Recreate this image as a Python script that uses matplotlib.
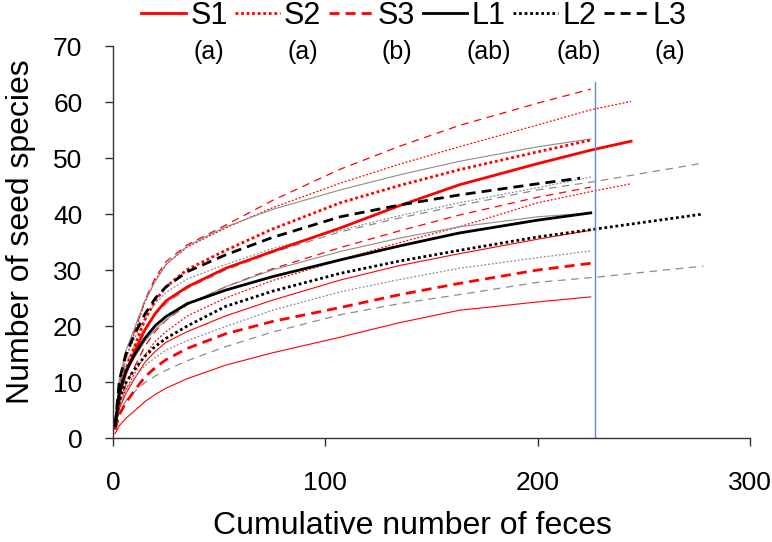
import matplotlib
matplotlib.use("Agg")
import matplotlib.pyplot as plt

plt.rcParams['font.family'] = ['Liberation Sans', 'DejaVu Sans']

# 读图得到的数据 (x: 累计粪便数, y: 种子物种数)
x_base = [1, 3, 6, 10, 15, 20, 25, 35, 53, 75, 107, 135, 163, 200]
x_225 = x_base + [225]
x_244 = x_base + [225, 244]
x_278 = x_base + [227, 278]
x_220 = x_base + [220]

s1_mean = [2.0, 7.7, 11.5, 15.3, 19.3, 22.3, 24.5, 27.0, 30.3, 33.3, 37.5, 41.5, 45.2, 49.0, 51.4, 53.0]
s1_up = [2.5, 9.3, 14.0, 18.6, 24.2, 28.3, 31.0, 34.1, 37.5, 41.1, 45.5, 48.9, 52.0, 55.9, 58.6, 60.1]
s1_low = [1.5, 5.7, 8.6, 11.4, 14.8, 17.3, 19.0, 21.8, 25.0, 28.1, 31.8, 34.9, 37.7, 42.0, 44.0, 45.4]

s2_mean = [2.0, 8.1, 12.2, 16.2, 21.1, 24.6, 27.0, 30.1, 33.5, 37.3, 42.0, 45.1, 47.9, 51.1, 53.2]
s2_up = [2.5, 9.5, 14.2, 18.9, 24.6, 28.7, 31.5, 34.5, 38.0, 42.4, 48.0, 52.1, 55.8, 59.8, 62.3]
s2_low = [1.5, 6.3, 9.5, 12.6, 16.4, 19.1, 21.0, 23.8, 27.0, 30.2, 34.0, 37.0, 39.8, 43.0, 44.8]

s3_mean = [1.5, 4.2, 6.3, 8.4, 10.9, 12.6, 14.0, 16.0, 18.6, 20.8, 23.3, 25.6, 27.6, 30.0, 31.2]
s3_up = [1.8, 5.3, 7.9, 10.5, 13.5, 15.5, 17.1, 19.0, 21.8, 24.6, 28.2, 30.8, 32.9, 35.5, 37.1]
s3_low = [0.8, 2.2, 3.5, 4.8, 6.5, 7.8, 8.9, 10.6, 13.0, 15.2, 18.0, 20.6, 22.8, 24.3, 25.2]

l1_mean = [2.2, 8.2, 11.9, 14.8, 17.8, 20.1, 21.7, 24.0, 26.4, 28.8, 31.8, 34.3, 36.6, 38.9, 40.2]
l1_up = [2.5, 9.9, 14.3, 17.7, 21.3, 24.1, 26.0, 28.4, 31.0, 33.8, 37.1, 39.7, 42.0, 44.7, 46.6]
l1_low = [1.8, 6.0, 8.6, 10.7, 12.9, 14.4, 15.7, 17.4, 19.9, 22.8, 26.1, 28.3, 30.3, 32.2, 33.4]

l2_mean = [2.0, 6.8, 9.8, 12.2, 14.6, 16.4, 17.8, 20.0, 23.5, 26.2, 29.4, 31.6, 33.5, 35.9, 37.3, 40.0]
l2_up = [2.3, 9.1, 13.2, 16.3, 19.7, 22.1, 24.0, 26.7, 30.0, 33.1, 36.8, 39.3, 41.5, 44.3, 45.8, 49.1]
l2_low = [1.5, 4.6, 6.6, 8.2, 9.9, 11.1, 12.1, 13.8, 16.3, 18.9, 22.0, 24.0, 25.6, 27.8, 28.7, 30.7]

l3_mean = [2.3, 10.3, 14.9, 18.4, 22.1, 25.0, 27.0, 29.7, 32.7, 35.8, 39.5, 41.6, 43.4, 45.4, 46.4]
l3_up = [2.6, 10.5, 15.5, 19.5, 24.5, 28.0, 31.0, 34.3, 37.7, 40.8, 44.3, 47.0, 49.4, 52.0, 53.4]
l3_low = [2.0, 8.0, 11.6, 14.3, 17.3, 19.4, 21.1, 23.9, 27.0, 30.0, 33.3, 35.7, 37.7, 39.5, 40.2]

cutoff_x = 227
cutoff_top = 63.5

groups = ['S1', 'S2', 'S3', 'L1', 'L2', 'L3']
letters = ['(a)', '(a)', '(b)', '(ab)', '(ab)', '(a)']

RED = '#FF0000'
GREY = '#8C8C8C'
DOT = (0, (1.0, 1.0))
DASH_THICK = (0, (3.6, 2.2))
DOT_THIN = (0, (1.5, 1.5))
DASH_THIN = (0, (6, 4.5))

fig = plt.figure(figsize=(7.72, 5.42), dpi=100)
ax = fig.add_axes([113 / 772, 1 - 438 / 542, 637 / 772, 392 / 542])

# 置信区间 (细线)
ax.plot(x_244, s1_up, color=RED, lw=0.9, ls=DOT_THIN)
ax.plot(x_244, s1_low, color=RED, lw=0.9, ls=DOT_THIN)
ax.plot(x_225, s2_up, color=RED, lw=0.9, ls=DASH_THIN)
ax.plot(x_225, s2_low, color=RED, lw=0.9, ls=DASH_THIN)
ax.plot(x_225, s3_up, color=RED, lw=0.8)
ax.plot(x_225, s3_low, color=RED, lw=0.8)
ax.plot(x_225, l1_up, color=GREY, lw=0.9, ls=DOT_THIN)
ax.plot(x_225, l1_low, color=GREY, lw=0.9, ls=DOT_THIN)
ax.plot(x_278, l2_up, color=GREY, lw=0.9, ls=DASH_THIN)
ax.plot(x_278, l2_low, color=GREY, lw=0.9, ls=DASH_THIN)
ax.plot(x_225, l3_up, color=GREY, lw=0.8)
ax.plot(x_225, l3_low, color=GREY, lw=0.8)

# 平均曲线 (粗线)
h = []
h += ax.plot(x_244, s1_mean, color=RED, lw=2.0)
h += ax.plot(x_225, s2_mean, color=RED, lw=2.0, ls=DOT)
h += ax.plot(x_225, s3_mean, color=RED, lw=2.0, ls=DASH_THICK)
h += ax.plot(x_225, l1_mean, color='black', lw=2.0)
h += ax.plot(x_278, l2_mean, color='black', lw=2.0, ls=DOT)
h += ax.plot(x_220, l3_mean, color='black', lw=2.0, ls=DASH_THICK)

ax.plot([cutoff_x, cutoff_x], [0, cutoff_top], color='#5B8BD0', lw=1.0)

ax.set_xlim(0, 300)
ax.set_ylim(0, 70)
ax.set_xticks([0, 100, 200, 300])
ax.set_yticks(range(0, 71, 10))
for s in ['top', 'right']:
    ax.spines[s].set_visible(False)
for s in ['left', 'bottom']:
    ax.spines[s].set_color('#333333')
    ax.spines[s].set_linewidth(1.0)
ax.tick_params(axis='x', direction='out', length=6, width=1.0, color='#333333',
               labelsize=19, pad=18)
ax.tick_params(axis='y', direction='out', length=6, width=1.0, color='#333333',
               labelsize=19, pad=16)

ax.set_xlabel('Cumulative number of feces', fontsize=23)
ax.set_ylabel('Number of seed species', fontsize=23)
ax.xaxis.set_label_coords((412 - 113) / 637, (438 - 511) / 392)
ax.yaxis.set_label_coords((36 - 113) / 637, (438 - 232) / 392)

leg = fig.legend(h, groups, loc='center', bbox_to_anchor=(414 / 772, 1 - 16 / 542),
                 ncol=6, frameon=False, fontsize=22, handlelength=1.45,
                 handletextpad=0.15, columnspacing=0.25, borderpad=0, borderaxespad=0)

# 字母标注放在图例文字正下方
fig.canvas.draw()
for t, lab in zip(leg.get_texts(), letters):
    bb = t.get_window_extent()
    xc = (bb.x0 + bb.x1) / 2 / fig.bbox.width
    fig.text(xc, 1 - 52 / 542, lab, ha='center', va='center', fontsize=18)

plt.savefig('out.png', dpi=100)
